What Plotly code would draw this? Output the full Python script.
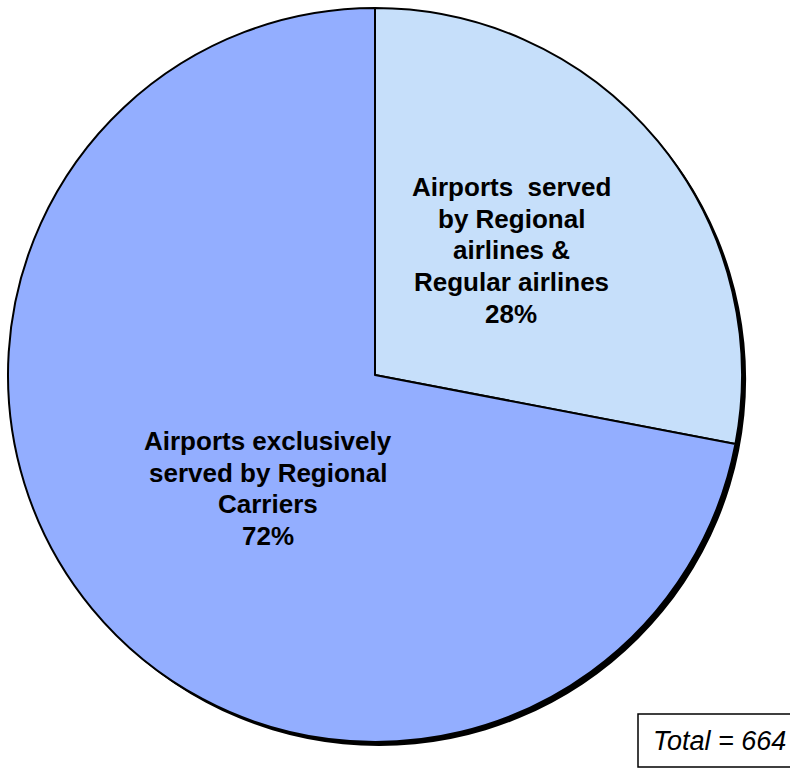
import plotly.graph_objects as go

# Airports by type of service
categories = [
    "Airports  served by Regional airlines & Regular airlines",
    "Airports exclusively served by Regional Carriers",
]
label_lines = [
    ["Airports  served", "by Regional", "airlines &", "Regular airlines"],
    ["Airports exclusively", "served by Regional", "Carriers"],
]
airport_counts = [186, 478]
slice_colors = ["#C6DFFA", "#93AEFF"]

W, H = 790, 772
total = sum(airport_counts)
percents = [round(100 * v / total) for v in airport_counts]

# pie geometry in pixels
cx, cy, r = 375, 375, 367
shadow_dx, shadow_dy = 4, 4


def dom(x0, y0, radius):
    return dict(x=[(x0 - radius) / W, (x0 + radius) / W],
                y=[(H - (y0 + radius)) / H, (H - (y0 - radius)) / H])


fig = go.Figure()

# drop shadow behind the pie
fig.add_trace(go.Pie(
    values=[1], labels=["shadow"], sort=False, textinfo="none",
    marker=dict(colors=["black"], line=dict(width=0)),
    domain=dom(cx + shadow_dx, cy + shadow_dy, r),
    hoverinfo="skip", showlegend=False,
))

fig.add_trace(go.Pie(
    values=airport_counts, labels=categories, sort=False, direction="clockwise",
    rotation=0, textinfo="none",
    marker=dict(colors=slice_colors, line=dict(color="black", width=2)),
    domain=dom(cx, cy, r), showlegend=False,
))

# slice labels, one annotation per line
label_centers = [(511, 187), (268, 441)]
line_step = 31.7
annotations = []
for lines, pct, (lx, ly) in zip(label_lines, percents, label_centers):
    for i, txt in enumerate(lines + [f"{pct}%"]):
        annotations.append(dict(
            x=lx / W, y=(H - (ly + i * line_step)) / H, xref="paper", yref="paper",
            text=txt, showarrow=False, xanchor="center", yanchor="middle",
            font=dict(family="Liberation Sans, Arial", size=26, color="black", weight="bold"),
        ))

annotations.append(dict(
    x=651 / W, y=(H - 741) / H, xref="paper", yref="paper",
    text=f"<i>Total = {total}</i>", showarrow=False, xanchor="left", yanchor="middle",
    font=dict(family="Liberation Sans, Arial", size=27, color="black"),
))

fig.update_layout(
    width=W, height=H, margin=dict(l=0, r=0, t=0, b=0),
    paper_bgcolor="white", plot_bgcolor="white",
    annotations=annotations,
    shapes=[dict(type="rect", xref="paper", yref="paper",
                 x0=638 / W, x1=795 / W, y0=(H - 767) / H, y1=(H - 714) / H,
                 line=dict(color="black", width=1.5), fillcolor="white", layer="below")],
)

fig.write_html("out.html")
